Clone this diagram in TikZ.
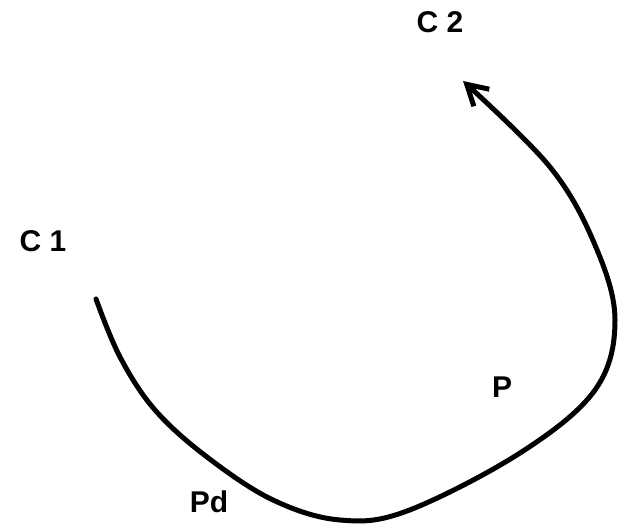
\documentclass[tikz,border=0pt]{standalone}
\usepackage{fontspec}
\setmainfont{Liberation Sans}
\usetikzlibrary{arrows.meta}

\begin{document}
\begin{tikzpicture}[x=1pt,y=-1pt,>={Straight Barb[length=20pt,width=23pt]},
    lbl/.style={font=\fontsize{30}{34}\selectfont\bfseries,inner sep=0pt}]
      \useasboundingbox (0,0) rectangle (621,526);
      \node[lbl] (c2) at (440,22) {C 2};
      \node[lbl] (c1) at (43,241) {C 1};
      \node[lbl] (p) at (502,387) {P};
      \node[lbl] (pd) at (209,502) {Pd};
      \draw[->,line width=5pt,line cap=round] plot[smooth,tension=0.6] coordinates {
        (96,299) (120,357) (155,410) (207,457) (273,500) (340,520)
        (407,511) (520,453) (595,390) (615,320) (595,245) (550,167) (463,81)};
    \end{tikzpicture}
\end{document}
